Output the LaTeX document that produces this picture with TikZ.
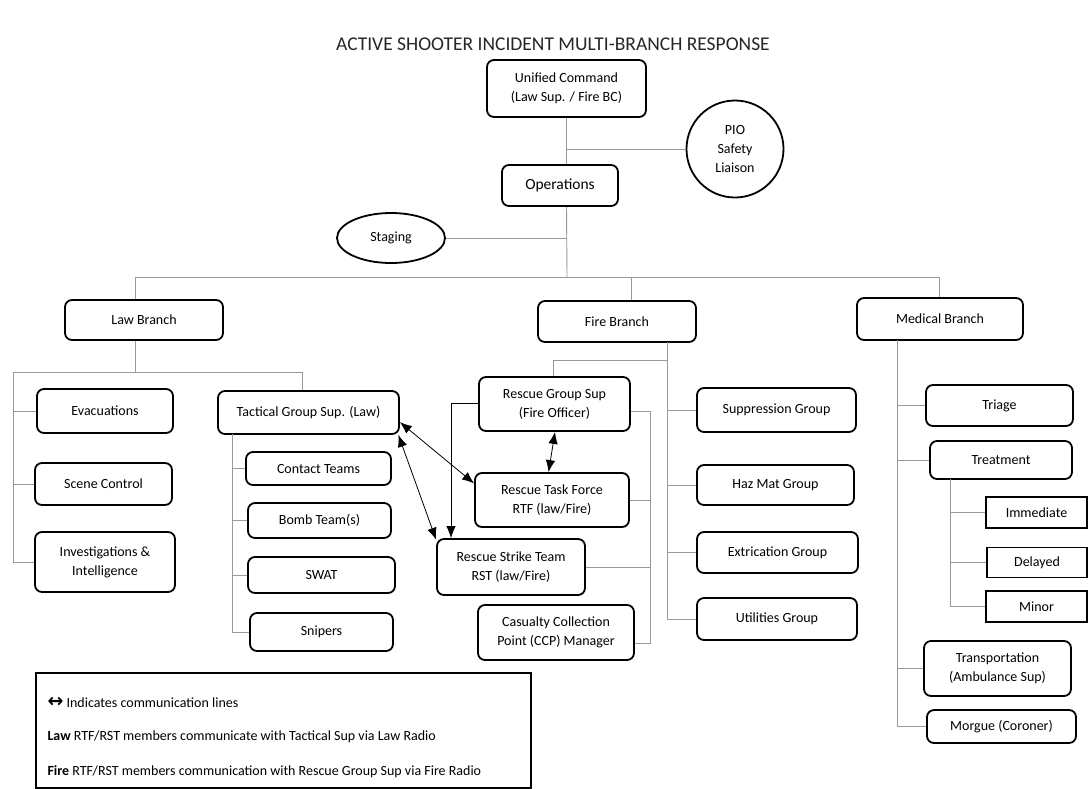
\documentclass[tikz,border=0pt]{standalone}
\usepackage{fontspec}
\setmainfont{Carlito}
\newfontfamily\symfont{DejaVu Sans}
\usetikzlibrary{shapes.geometric,arrows.meta,positioning}
\tikzstyle{block} = [rectangle, draw, line width=1.8pt, rounded corners=7pt,
align=center, inner sep=2pt]
\tikzstyle{subblock} = [rectangle, draw, line width=1.6pt, align=center, inner sep=2pt]
\tikzstyle{conn} = [draw, black!40, line width=0.9pt]
\tikzstyle{comm} = [draw, line width=0.8pt, {Latex[length=12pt,width=9.5pt]}-{Latex[length=12pt,width=9.5pt]}]
\tikzstyle{line} = [draw, line width=0.8pt, -{Latex[length=12pt,width=9.5pt]}]

\begin{document}
\begin{tikzpicture}[x=1pt, y=-1pt,
sz/.style 2 args={minimum width=#1pt, minimum height=#2pt},
every node/.style={font=\fontsize{14}{19}\selectfont}
]
\useasboundingbox (0,0) rectangle (1089,788);
% Title
\node [text=black!85] (title) at (553,44) {\fontsize{19.5}{22}\selectfont ACTIVE SHOOTER INCIDENT MULTI-BRANCH RESPONSE};

% Command
\node [block, sz={159}{57}] (uc) at (566.5,88.5) {Unified Command\\(Law Sup. / Fire BC)};
\node [circle, draw, line width=1.8pt, minimum size=97pt, align=center] (pio) at (735,149) {PIO\\Safety\\Liaison};
\node [block, sz={116}{41}] (ops) at (560,185.5) {\fontsize{15.5}{19}\selectfont Operations};
\node [ellipse, draw, line width=1.8pt, sz={108}{50}] (staging) at (391,238) {Staging};

% Branches
\node [block, sz={158}{40}] (law) at (144,320) {Law Branch};
\node [block, sz={158}{41}] (fire) at (617,321.5) {Fire Branch};
\node [block, sz={166}{42}] (med) at (940,319) {Medical Branch};

% Law branch
\node [block, sz={136}{44}] (evac) at (105,411) {Evacuations};
\node [block, sz={137}{42}] (scene) at (103.5,484) {Scene Control};
\node [block, sz={140}{60}] (invest) at (105,562) {Investigations \&\\Intelligence};
\node [block, sz={181}{43}] (tact) at (308.5,412.5) {Tactical Group Sup. (Law)};
\node [block, sz={145}{33}] (contact) at (318.5,468.5) {Contact Teams};
\node [block, sz={143}{35}] (bomb) at (319.5,520.5) {Bomb Team(s)};
\node [block, sz={147}{36}] (swat) at (321.5,575) {SWAT};
\node [block, sz={143}{38}] (snipers) at (321.5,632) {Snipers};

% Fire branch
\node [block, sz={151}{54}] (rgs) at (554.5,404) {Rescue Group Sup\\(Fire Officer)};
\node [block, sz={154}{54}] (rtf) at (552,500) {Rescue Task Force\\RTF (law/Fire)};
\node [block, sz={148}{56}] (rst) at (511,567) {Rescue Strike Team\\RST (law/Fire)};
\node [block, sz={156}{55}] (ccp) at (556,632.5) {Casualty Collection\\Point (CCP) Manager};
\node [block, sz={159}{44}] (supp) at (776.5,410) {Suppression Group};
\node [block, sz={157}{40}] (hazmat) at (775.5,485) {Haz Mat Group};
\node [block, sz={161}{41}] (extric) at (777.5,552.5) {Extrication Group};
\node [block, sz={160}{42}] (util) at (777,619) {Utilities Group};

% Medical branch
\node [block, sz={147}{41}] (triage) at (999.5,405.5) {Triage};
\node [block, sz={142}{38}] (treat) at (1001,460) {Treatment};
\node [subblock, sz={101}{31}] (immed) at (1036.5,512.5) {Immediate};
\node [subblock, sz={100}{30}] (delayed) at (1037,562.5) {Delayed};
\node [subblock, sz={101}{31}] (minor) at (1036.5,606.5) {Minor};
\node [block, sz={147}{55}] (transp) at (997.5,668.5) {Transportation\\(Ambulance Sup)};
\node [block, sz={149}{33}] (morgue) at (1001.5,726.5) {Morgue (Coroner)};

% Legend
\node [draw, line width=1.6pt, sz={495}{115}, anchor=north west] (legend) at (35,672) {};
\node [anchor=west] (leg1) at (44,702) {{\symfont\bfseries\fontsize{19}{19}\selectfont ↔} Indicates communication lines};
\node [anchor=west] (leg2) at (44,737) {\textbf{Law} RTF/RST members communicate with Tactical Sup via Law Radio};
\node [anchor=west] (leg3) at (44,772) {\textbf{Fire} RTF/RST members communication with Rescue Group Sup via Fire Radio};

% Bus points
\coordinate (trunk) at (567,277);
\coordinate (lawtop) at (135,277);
\coordinate (firetop) at (631,277);
\coordinate (medtop) at (939,277);
\coordinate (lawleft) at (13,372);
\coordinate (lawright) at (302,372);
\coordinate (tactbus) at (232,434);
\coordinate (firebus) at (667,342);
\coordinate (rgstop) at (553,360);
\coordinate (rescbus) at (650,411);
\coordinate (ccptick) at (650,643);
\coordinate (rgsleft) at (451,403);
\coordinate (medbus) at (897,340);
\coordinate (treatbus) at (950,479);

% Draw edges
\path [conn] (uc.south) -- (uc.south |- ops.north);
\path [conn] (pio.west) -- (pio.west -| uc.south);
\path [conn] (uc.south |- ops.south) -- (trunk);
\path [conn] (staging.east) -- (staging.east -| trunk);
\path [conn] (lawtop) -- (medtop);
\path [conn] (lawtop) -- (lawtop |- law.north);
\path [conn] (firetop) -- (firetop |- fire.north);
\path [conn] (medtop) -- (medtop |- med.north);

\path [conn] (lawtop |- law.south) -- (lawtop |- lawleft);
\path [conn] (lawleft) -- (lawright) -- (lawright |- tact.north);
\path [conn] (lawleft) -- (lawleft |- invest.west) -- (invest.west);
\foreach \n in {evac,scene}
  \path [conn] (lawleft |- \n.west) -- (\n.west);
\path [conn] (tactbus) -- (tactbus |- snipers.west) -- (snipers.west);
\foreach \n in {contact,bomb,swat}
  \path [conn] (tactbus |- \n.west) -- (\n.west);

\path [conn] (firebus) -- (firebus |- util.west) -- (util.west);
\foreach \n in {supp,hazmat,extric}
  \path [conn] (firebus |- \n.west) -- (\n.west);
\path [conn] (rgstop -| firebus) -- (rgstop) -- (rgstop |- rgs.north);
\path [conn] (rescbus -| rgs.east) -- (rescbus) -- (ccptick) -- (ccptick -| ccp.east);
\foreach \n in {rtf,rst}
  \path [conn] (\n.east) -- (\n.east -| rescbus);

\path [conn] (medbus) -- (medbus |- morgue.west) -- (morgue.west);
\foreach \n in {triage,treat,transp}
  \path [conn] (medbus |- \n.west) -- (\n.west);
\path [conn] (treatbus) -- (treatbus |- minor.west) -- (minor.west);
\foreach \n in {immed,delayed}
  \path [conn] (treatbus |- \n.west) -- (\n.west);

% Communication lines
\path [line] (rgsleft -| rgs.west) -- (rgsleft) -- (rgsleft |- rst.north);
\path [comm] (tact.-6) -- (rtf.168);
\path [comm] (tact.-14) -- (rst.160);
\path [comm] (rgs.-89) -- (rtf.97);
\end{tikzpicture}
\end{document}
